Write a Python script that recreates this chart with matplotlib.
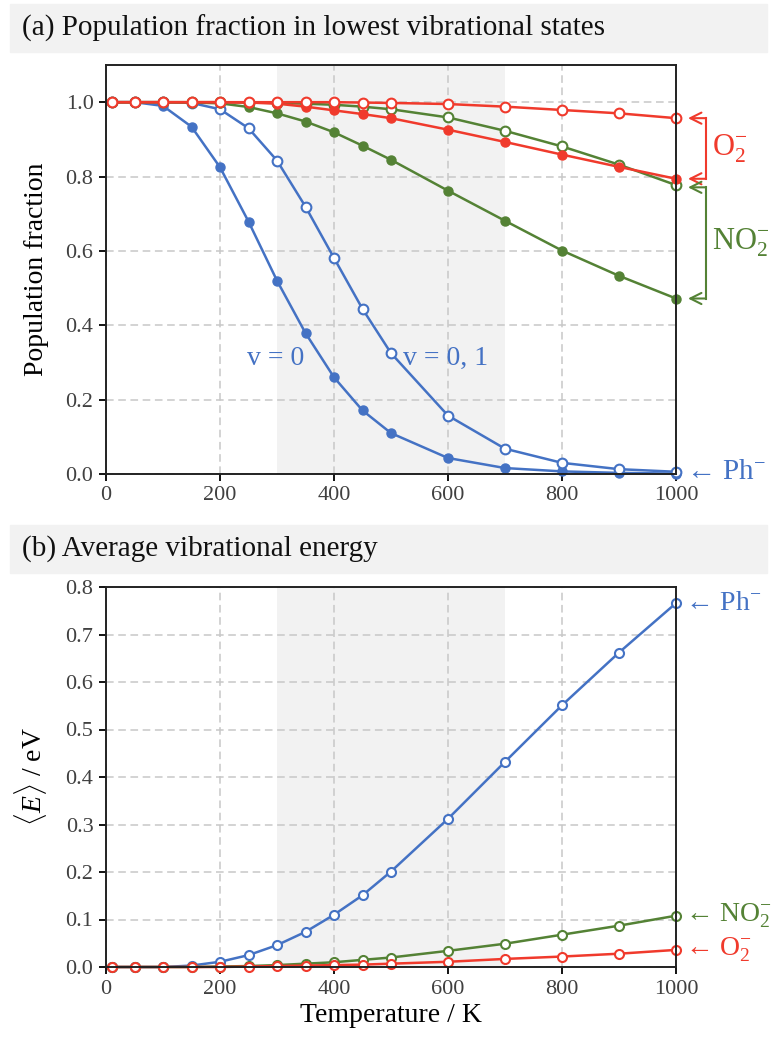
import matplotlib
matplotlib.use('Agg')
import matplotlib.pyplot as plt
from matplotlib.patches import Rectangle
from matplotlib.ticker import FormatStrFormatter
from matplotlib.transforms import offset_copy

plt.rcParams['font.family'] = ['Liberation Serif', 'DejaVu Serif']
plt.rcParams['mathtext.fontset'] = 'custom'
plt.rcParams['mathtext.rm'] = 'Liberation Serif'
plt.rcParams['mathtext.it'] = 'Liberation Serif:italic'

# temperatures (K)
T = [10, 50, 100, 150, 200, 250, 300, 350, 400, 450, 500, 600, 700, 800, 900, 1000]

# (a) population fraction: v = 0 (filled) and v = 0, 1 (open)
ph_v0 = [1.000, 1.000, 0.990, 0.934, 0.825, 0.679, 0.520, 0.379, 0.260, 0.171, 0.110, 0.043, 0.016, 0.007, 0.003, 0.001]
ph_v01 = [1.000, 1.000, 1.000, 0.998, 0.981, 0.930, 0.843, 0.719, 0.581, 0.444, 0.325, 0.157, 0.068, 0.030, 0.013, 0.006]
no2_v0 = [1.000, 1.000, 1.000, 0.999, 0.997, 0.987, 0.970, 0.948, 0.919, 0.883, 0.845, 0.762, 0.681, 0.601, 0.533, 0.472]
no2_v01 = [1.000, 1.000, 1.000, 1.000, 1.000, 0.999, 0.998, 0.996, 0.993, 0.988, 0.981, 0.959, 0.923, 0.881, 0.832, 0.777]
o2_v0 = [1.000, 1.000, 1.000, 1.000, 1.000, 0.999, 0.996, 0.988, 0.978, 0.968, 0.957, 0.926, 0.893, 0.859, 0.826, 0.794]
o2_v01 = [1.000, 1.000, 1.000, 1.000, 1.000, 1.000, 1.000, 1.000, 1.000, 0.999, 0.998, 0.995, 0.988, 0.979, 0.970, 0.957]

# (b) average vibrational energy (eV)
ph_E = [0.000, 0.000, 0.000, 0.003, 0.011, 0.025, 0.046, 0.074, 0.110, 0.151, 0.201, 0.312, 0.432, 0.551, 0.662, 0.766]
no2_E = [0.000, 0.000, 0.000, 0.000, 0.001, 0.002, 0.004, 0.007, 0.010, 0.015, 0.020, 0.034, 0.049, 0.068, 0.087, 0.108]
o2_E = [0.000, 0.000, 0.000, 0.000, 0.000, 0.001, 0.002, 0.003, 0.004, 0.005, 0.007, 0.011, 0.017, 0.022, 0.028, 0.036]

BLUE = '#4472C4'
GREEN = '#548235'
RED = '#F03A2C'
W, H = 776, 1046

fig = plt.figure(figsize=(W / 100, H / 100), dpi=100)


def px_box(x0, y0, x1, y1):
    return [x0 / W, 1 - y1 / H, (x1 - x0) / W, (y1 - y0) / H]


# title bands
for (y0, y1, txt) in [(4, 52, '(a) Population fraction in lowest vibrational states'),
                      (525, 573, '(b) Average vibrational energy')]:
    fig.patches.append(Rectangle((10 / W, 1 - y1 / H), 757 / W, (y1 - y0) / H,
                                 transform=fig.transFigure, color='#f2f2f2', zorder=0))
    fig.text(22 / W, 1 - (y0 + y1) / 2 / H, txt, va='center', ha='left', fontsize=21, color='#111111')

ax1 = fig.add_axes(px_box(106, 65, 676, 474))
ax2 = fig.add_axes(px_box(106, 587, 676, 967))


def style(ax, ymax, yticks):
    ax.set_xlim(0, 1000)
    ax.set_ylim(0, ymax)
    ax.set_xticks(range(0, 1001, 200))
    ax.set_yticks(yticks)
    ax.yaxis.set_major_formatter(FormatStrFormatter('%.1f'))
    ax.axvspan(300, 700, color='#f2f2f2', zorder=0, lw=0)
    ax.set_axisbelow(True)
    ax.grid(True, color='#c8c8c8', linestyle=(0, (5, 3)), linewidth=1.1)
    for s in ax.spines.values():
        s.set_linewidth(1.4)
        s.set_color('#222222')
        s.set_zorder(5)
    ax.tick_params(direction='out', length=5, width=1.3, labelsize=16, labelcolor='#404040', pad=4)


style(ax1, 1.1, [0, 0.2, 0.4, 0.6, 0.8, 1.0])
style(ax2, 0.8, [0, 0.1, 0.2, 0.3, 0.4, 0.5, 0.6, 0.7, 0.8])

lw = 1.8
for c, v0, v01 in [(BLUE, ph_v0, ph_v01), (GREEN, no2_v0, no2_v01), (RED, o2_v0, o2_v01)]:
    ax1.plot(T, v0, '-o', color=c, lw=lw, ms=6.5, mfc=c, mec=c, clip_on=False, zorder=3)
    ax1.plot(T, v01, '-o', color=c, lw=lw, ms=7, mfc='white', mec=c, mew=1.5, clip_on=False, zorder=3)

for c, e in [(BLUE, ph_E), (GREEN, no2_E), (RED, o2_E)]:
    ax2.plot(T, e, '-o', color=c, lw=lw, ms=6.5, mfc='white', mec=c, mew=1.5, clip_on=False, zorder=3)

ax1.set_ylabel('Population fraction', fontsize=20)
ax1.yaxis.set_label_coords(-0.1, 0.5)
ax2.set_ylabel(r'$\langle E\rangle$ / eV', fontsize=20)
ax2.yaxis.set_label_coords(-0.1, 0.5)
ax2.set_xlabel('Temperature / K', fontsize=20, labelpad=3)

# curve labels
ax1.text(298, 0.31, 'v = 0', color=BLUE, fontsize=20, ha='center', va='center')
ax1.text(595, 0.31, 'v = 0, 1', color=BLUE, fontsize=20, ha='center', va='center')

# brackets on the right of panel (a)
tip = offset_copy(ax1.transData, fig=fig, x=12, y=0, units='dots')
bar = offset_copy(ax1.transData, fig=fig, x=30, y=0, units='dots')
lab = offset_copy(ax1.transData, fig=fig, x=36, y=0, units='dots')
for c, ya, yb, txt in [(RED, o2_v01[-1], o2_v0[-1], r'$\mathrm{O}_2^{-}$'),
                       (GREEN, no2_v01[-1] - 0.006, no2_v0[-1], r'$\mathrm{NO}_2^{-}$')]:
    for y in (ya, yb):
        ax1.annotate('', xy=(T[-1], y), xycoords=tip, xytext=(T[-1], y), textcoords=bar,
                     arrowprops=dict(arrowstyle='->,head_length=0.8,head_width=0.4', color=c,
                                     lw=1.5, shrinkA=0, shrinkB=0), annotation_clip=False)
    ax1.plot([T[-1], T[-1]], [ya, yb], color=c, lw=1.5, transform=bar, clip_on=False)
    ax1.text(T[-1], (ya + yb) / 2, txt, color=c, fontsize=22, ha='left', va='center',
             transform=lab, clip_on=False)

txt_off = offset_copy(ax1.transData, fig=fig, x=10, y=0, units='dots')
ax1.text(T[-1], ph_v01[-1], r'← Ph$^{-}$', color=BLUE, fontsize=21, ha='left', va='center',
         transform=txt_off, clip_on=False)

txt_off2 = offset_copy(ax2.transData, fig=fig, x=9, y=0, units='dots')
for c, e, txt in [(BLUE, ph_E, r'← Ph$^{-}$'), (GREEN, no2_E, r'← $\mathrm{NO}_2^{-}$'),
                  (RED, o2_E, r'← $\mathrm{O}_2^{-}$')]:
    ax2.text(T[-1], e[-1], txt, color=c, fontsize=20, ha='left', va='center',
             transform=txt_off2, clip_on=False)

fig.savefig('out.png', dpi=100)
